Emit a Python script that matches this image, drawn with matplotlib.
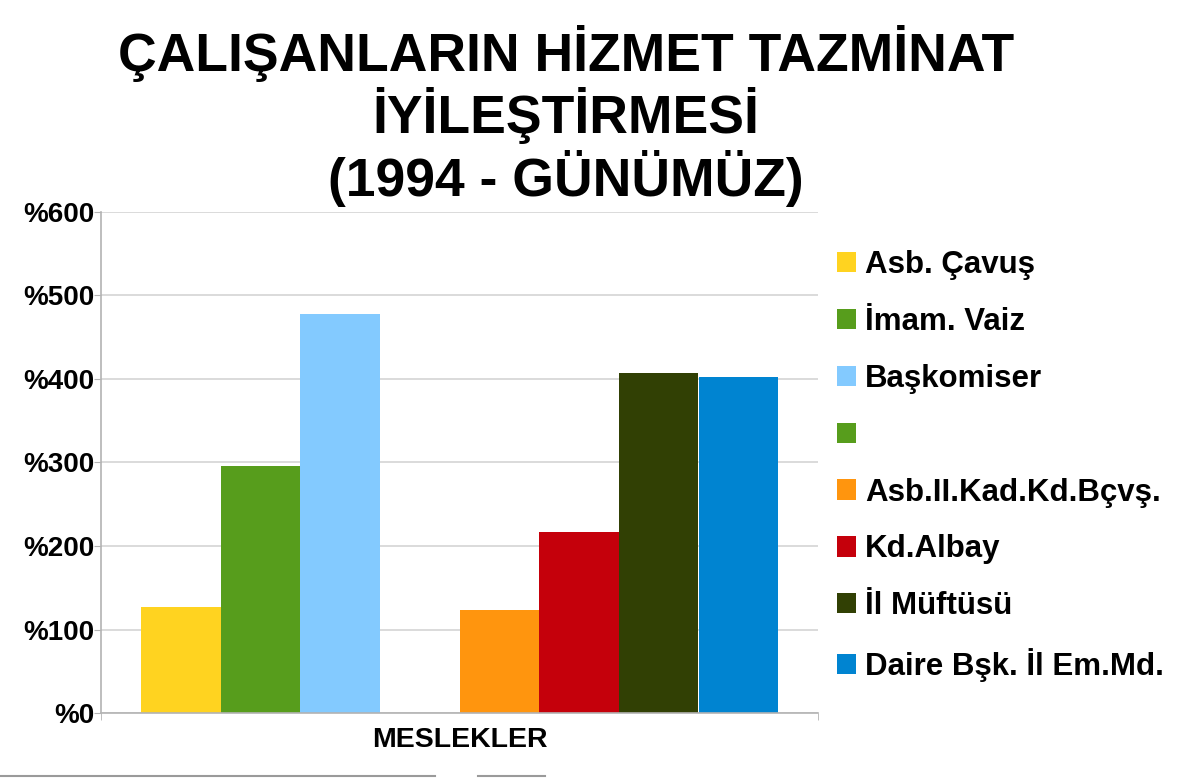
import matplotlib
matplotlib.use("Agg")
import matplotlib.pyplot as plt
from matplotlib.lines import Line2D
from matplotlib.patches import Patch
import numpy as np

plt.rcParams['font.family'] = ['Liberation Sans', 'DejaVu Sans']

category = "MESLEKLER"
series_names = ["Asb. Çavuş", "İmam. Vaiz", "Başkomiser", "",
                "Asb.II.Kad.Kd.Bçvş.", "Kd.Albay", "İl Müftüsü", "Daire Bşk. İl Em.Md."]
series_values = [127, 296, 478, 0, 123, 217, 407, 402]
series_colors = ["#ffd320", "#579d1c", "#83caff", "#579d1c",
                 "#ff950e", "#c5000b", "#314004", "#0084d1"]
y_ticks = [0, 100, 200, 300, 400, 500, 600]
y_tick_labels = ["%0", "%100", "%200", "%300", "%400", "%500", "%600"]
title_text = "ÇALIŞANLARIN HİZMET TAZMİNAT\nİYİLEŞTİRMESİ\n(1994 - GÜNÜMÜZ)"

fig = plt.figure(figsize=(12, 7.8), dpi=100)
ax = fig.add_axes([101/1200, 1 - 713/780, (818-101)/1200, (713-212)/780])

n = len(series_values)
w = 1.0
offsets = (np.arange(n) - (n - 1) / 2) * w
for off, v, c in zip(offsets, series_values, series_colors):
    ax.bar(0 + off, v, width=w, color=c, edgecolor='none', zorder=2)

ax.set_xlim(-n / 2 * w - 0.5 * w, n / 2 * w + 0.5 * w)
ax.set_ylim(0, 600)
ax.set_yticks(y_ticks)
ax.set_yticklabels(y_tick_labels, fontsize=20, fontweight='bold')
ax.set_xticks([0])
ax.set_xticklabels([category], fontsize=20.5, fontweight='bold')
ax.set_xticks(list(ax.get_xlim()), minor=True)
ax.tick_params(axis='x', which='major', length=0, pad=10)
ax.tick_params(axis='x', which='minor', length=5, color='#b3b3b3', direction='out')
ax.tick_params(axis='y', length=5, color='#b3b3b3', pad=0)
ax.yaxis.grid(True, color='#d4d4d4', linewidth=1.2, zorder=0)
ax.set_axisbelow(True)
for s in ['top', 'right']:
    ax.spines[s].set_visible(False)
for s in ['left', 'bottom']:
    ax.spines[s].set_color('#b3b3b3')
    ax.spines[s].set_linewidth(1.2)

handles = [Patch(facecolor=c, edgecolor='none') for c in series_colors]
leg = fig.legend(handles, series_names, loc='upper left',
                 bbox_to_anchor=(837/1200, 1 - 250/780), frameon=False,
                 prop={'size': 22.5, 'weight': 'bold'},
                 handlelength=0.62, handleheight=0.62, handletextpad=0.27,
                 labelspacing=0.86, borderaxespad=0, borderpad=0)

fig.text(566/1200, 1 - 116/780, title_text, ha='center', va='center',
         fontsize=38.5, fontweight='bold', linespacing=1.12)

fig.add_artist(Line2D([0, 435/1200], [1 - 776/780] * 2, color='#9a9a9a', lw=1.5))
fig.add_artist(Line2D([478/1200, 545/1200], [1 - 776/780] * 2, color='#9a9a9a', lw=1.5))

fig.savefig("out.png", dpi=100, facecolor='white')
